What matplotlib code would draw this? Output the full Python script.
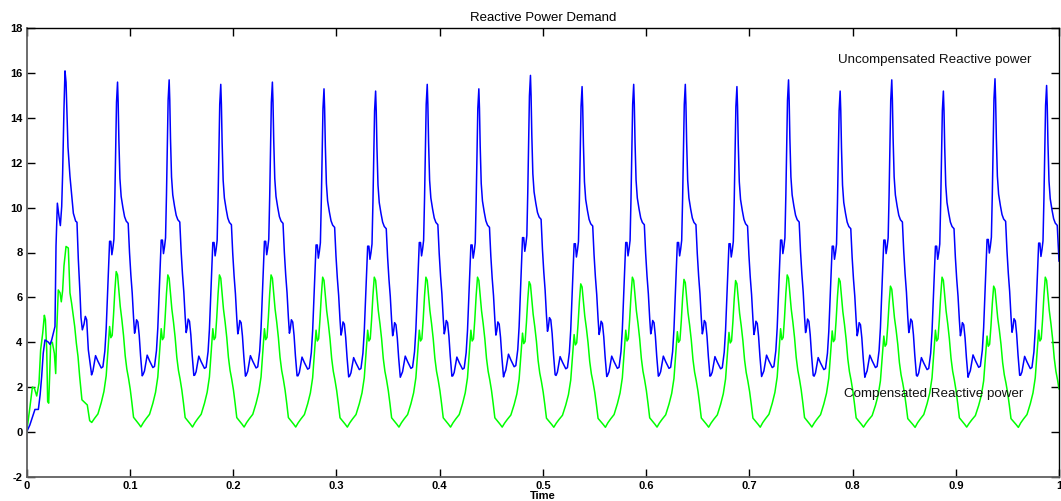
import numpy as np
import matplotlib
matplotlib.use("Agg")
import matplotlib.pyplot as plt

# ---------------- data ----------------
title = "Reactive Power Demand"
xlabel = "Time"
label_uncomp = "Uncompensated Reactive power"
label_comp = "Compensated Reactive power"

# start-up transient (first cycle), time [s] / value
blue_start_t = [0.0, 0.003, 0.008, 0.0113, 0.013, 0.0145, 0.016, 0.0177, 0.0210, 0.0226, 0.0242,
                0.0274, 0.0284, 0.0297, 0.0313, 0.0326, 0.0339, 0.0348, 0.0361, 0.0371, 0.0381,
                0.0390, 0.0400, 0.0419, 0.0435, 0.0452, 0.0474, 0.0487, 0.0500, 0.0516, 0.0526,
                0.0539, 0.0555, 0.0568, 0.0581, 0.0597, 0.0629]
blue_start_v = [0.0, 0.3, 1.0, 1.0, 1.65, 2.47, 3.5, 4.1, 4.0, 3.9, 4.1,
                4.7, 8.3, 10.2, 9.6, 9.2, 10.05, 11.5, 14.4, 16.1, 15.6,
                14.2, 12.7, 11.4, 10.6, 9.75, 9.4, 9.35, 7.7, 6.2, 5.1,
                4.55, 4.8, 5.15, 5.0, 3.66, 2.54]

green_start_t = [0.0, 0.0032, 0.0055, 0.0074, 0.0097, 0.0119, 0.0135, 0.0155, 0.0171, 0.0181,
                 0.0194, 0.0203, 0.0213, 0.0223, 0.0232, 0.0248, 0.0268, 0.0281, 0.0290, 0.0306,
                 0.0323, 0.0335, 0.0348, 0.0361, 0.0381, 0.0403, 0.0419, 0.0435, 0.0465, 0.0481,
                 0.0497, 0.0513, 0.0535, 0.0568, 0.0587, 0.0610]
green_start_v = [0.0, 1.13, 2.0, 1.95, 1.6, 2.17, 3.66, 4.4, 5.2, 5.0,
                 3.66, 1.35, 1.28, 2.6, 3.95, 4.0, 3.5, 2.6, 4.4, 6.33,
                 6.2, 5.8, 6.3, 7.4, 8.27, 8.2, 6.2, 5.74, 4.7, 3.95,
                 3.36, 2.47, 1.43, 1.28, 1.2, 0.5]

# one cycle shape, time offset from the blue peak [s]
blue_dt = [-0.0252, -0.0239, -0.0213, -0.0190, -0.0174, -0.0158, -0.0142, -0.0123, -0.0110,
           -0.0094, -0.0077, -0.0065, -0.0055, -0.0045, -0.0035, -0.0026, -0.0016, -0.0010,
           0.0, 0.0006, 0.0013, 0.0023, 0.0035, 0.0052, 0.0068, 0.0084, 0.0103, 0.0116,
           0.0129, 0.0142, 0.0155, 0.0165, 0.0174, 0.0184, 0.0197, 0.0210, 0.0223, 0.0239]
blue_shape = [2.55, 2.7, 3.4, 3.15, 3.0, 2.85, 2.9, 3.6, 4.6,
              6.5, 8.5, 8.5, 7.9, 8.2, 8.6, 10.5, 13.0, 14.7,
              15.6, 14.7, 13.0, 11.3, 10.5, 10.0, 9.6, 9.4, 9.3, 8.0,
              7.0, 6.2, 5.1, 4.4, 4.6, 5.0, 4.9, 4.3, 3.4, 2.5]

green_dt = [-0.0250, -0.0223, -0.0190, -0.0158, -0.0132, -0.0110, -0.0094, -0.0077, -0.0065,
            -0.0052, -0.0039, -0.0026, -0.0013, 0.0, 0.0013, 0.0026, 0.0042, 0.0058, 0.0074,
            0.0090, 0.0106, 0.0123, 0.0139, 0.0155, 0.0181, 0.0206, 0.0226]
green_shape = [0.42, 0.6, 0.8, 1.3, 1.8, 2.5, 3.6, 4.7, 4.2,
               4.3, 5.2, 6.3, 7.15, 7.0, 6.3, 5.6, 5.0, 4.3, 3.4,
               2.8, 2.4, 1.9, 1.3, 0.65, 0.5, 0.35, 0.22]

# per-cycle peak times and peak heights
peak_times = [0.088, 0.138, 0.188, 0.238, 0.288, 0.338, 0.388, 0.438, 0.488, 0.538,
              0.588, 0.638, 0.688, 0.738, 0.788, 0.838, 0.888, 0.938, 0.988]
blue_peaks = [15.6, 15.7, 15.5, 15.6, 15.3, 15.2, 15.5, 15.3, 15.9, 15.4,
              15.5, 15.5, 15.4, 15.7, 15.2, 15.7, 15.2, 15.75, 15.45]
green_peaks = [7.15, 7.0, 7.0, 7.0, 6.9, 6.9, 6.9, 6.9, 6.7, 6.6,
               6.9, 6.8, 6.75, 7.0, 6.85, 6.5, 6.9, 6.5, 6.9]

xticks = [0, 0.1, 0.2, 0.3, 0.4, 0.5, 0.6, 0.7, 0.8, 0.9, 1]
xtick_labels = ["0", "0.1", "0.2", "0.3", "0.4", "0.5", "0.6", "0.7", "0.8", "0.9", "1"]
yticks = [-2, 0, 2, 4, 6, 8, 10, 12, 14, 16, 18]


def build(start_t, start_v, dt, shape, peaks):
    ts = list(start_t)
    vs = list(start_v)
    ref = max(shape)
    for pt, pk in zip(peak_times, peaks):
        for d, s in zip(dt, shape):
            ts.append(pt + d)
            vs.append(s * pk / ref)
    ts = np.array(ts)
    vs = np.array(vs)
    keep = ts <= 1.0
    tt, vv = ts[keep], vs[keep]
    v_end = np.interp(1.0, ts, vs)
    return np.append(tt, 1.0), np.append(vv, v_end)


bt, bv = build(blue_start_t, blue_start_v, blue_dt, blue_shape, blue_peaks)
gt, gv = build(green_start_t, green_start_v, green_dt, green_shape, green_peaks)

# ---------------- plot ----------------
plt.rcParams['font.family'] = ['Liberation Sans', 'DejaVu Sans']
plt.rcParams['axes.unicode_minus'] = False
fig = plt.figure(figsize=(10.61, 5.01), dpi=100)
ax = fig.add_axes([26.7 / 1061, (501 - 476.7) / 501, (1059 - 26.7) / 1061, (476.7 - 28.3) / 501])

ax.plot(gt, gv, color=(0, 1, 0), lw=1.1)
ax.plot(bt, bv, color=(0, 0, 1), lw=1.1)

ax.set_xlim(0, 1)
ax.set_ylim(-2, 18)
ax.set_xticks(xticks)
ax.set_xticklabels(xtick_labels)
ax.set_yticks(yticks)
ax.tick_params(direction='in', length=6, width=1, top=True, right=True,
               labelsize=8, pad=3, colors='black')
for lab in ax.get_xticklabels() + ax.get_yticklabels():
    lab.set_fontweight('bold')
for s in ['left', 'bottom']:
    ax.spines[s].set_color('#606060')
    ax.spines[s].set_linewidth(1.3)
for s in ['top', 'right']:
    ax.spines[s].set_color('black')
    ax.spines[s].set_linewidth(1.0)

ax.set_title(title, fontsize=9.5, pad=5)
ax.set_xlabel(xlabel, fontsize=8, fontweight='bold', labelpad=0)

ax.text(0.786, 16.6, label_uncomp, fontsize=9.6, va='center', ha='left', color='#111111')
ax.text(0.792, 1.69, label_comp, fontsize=9.6, va='center', ha='left', color='#111111')

fig.savefig("out.png", dpi=100)
